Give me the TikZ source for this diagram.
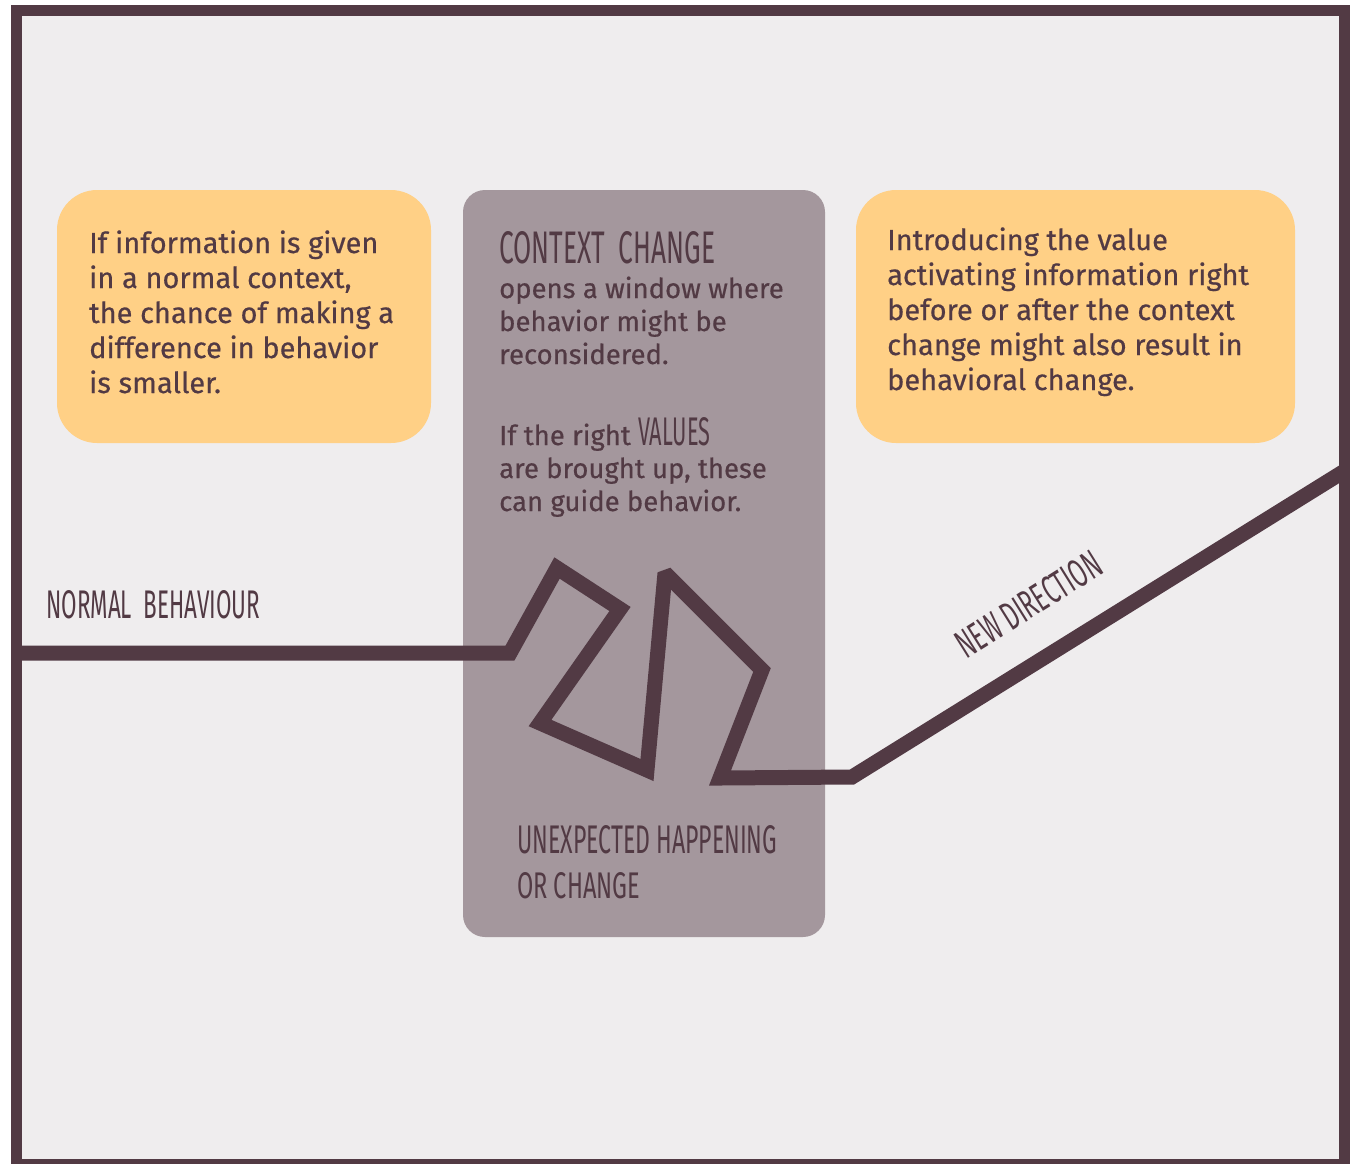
\documentclass[tikz,border=0pt]{standalone}
\usepackage{fontspec}
\setmainfont{Fira Sans}
\newfontfamily\bodyfont[FakeBold=0.5]{Fira Sans}
\newfontfamily\handfont{Fira Sans}
\usepackage{graphicx}
\definecolor{dark}{RGB}{82,58,68}
\definecolor{bgc}{RGB}{239,237,238}
\definecolor{yel}{RGB}{255,208,134}
\definecolor{greybox}{RGB}{164,151,157}
\begin{document}
\begin{tikzpicture}[x=1pt,y=-1pt,
  body/.style={inner sep=0pt, anchor=base west, align=left, text=dark, font=\bodyfont\fontsize{29}{35}\selectfont},
  midbody/.style={body, font=\bodyfont\fontsize{27.5}{33}\selectfont},
  hand/.style={inner sep=0pt, anchor=base west, text=dark},
  ybox/.style={fill=yel, rounded corners=40pt},
  gbox/.style={fill=greybox, rounded corners=22pt},
  track/.style={draw=dark, line width=15pt, line join=miter, miter limit=2}]
\useasboundingbox (0,0) rectangle (1354,1163);
\fill[white] (0,0) rectangle (1354,1163);
\fill[bgc] (16.5,10.5) rectangle (1344.5,1170);
% boxes
\path[ybox] (57,190) rectangle (431,443);
\path[gbox] (463,190) rectangle (825,937);
\path[ybox] (856,190) rectangle (1295,443);
% texts (base anchor = baseline of last line)
\node[body] (lefttext) at (89,393) {If information is given\\in a normal context,\\the chance of making a\\difference in behavior\\is smaller.};
\node[body] (righttext) at (887,390) {Introducing the value\\activating information right\\before or after the context\\change might also result in\\behavioral change.};
\node[hand] (ctx) at (499,263) {\resizebox{216pt}{32pt}{\handfont CONTEXT\ \ CHANGE}};
\node[midbody] (ctxtext) at (499,364) {opens a window where\\behavior might be\\reconsidered.};
\node[midbody] (iftr) at (499,445) {If the right};
\node[hand] (values) at (638,445) {\resizebox{72pt}{28pt}{\handfont VALUES}};
\node[midbody] (vtext) at (499,511) {are brought up, these\\can guide behavior.};
\node[hand] (unexp) at (517,853) {\resizebox{260pt}{28pt}{\handfont UNEXPECTED HAPPENING}};
\node[hand] (orch) at (517,898) {\resizebox{123pt}{26pt}{\handfont OR CHANGE}};
\node[hand] (normal) at (46,618) {\resizebox{214pt}{28pt}{\handfont NORMAL\ \ BEHAVIOUR}};
\node[hand, rotate=32, anchor=base] (newdir) at (1036,616) {\resizebox{164pt}{28pt}{\handfont NEW DIRECTION}};
% track
\coordinate (p0) at (16.5,653);
\coordinate (p1) at (510,653);
\coordinate (p2) at (557,568);
\coordinate (p3) at (620,609);
\coordinate (p4) at (540,723);
\coordinate (p5) at (647,770);
\coordinate (p6) at (665,573);
\coordinate (p7) at (762,670);
\coordinate (p8) at (720,778);
\coordinate (p9) at (852,777);
\coordinate (p10) at (1344.5,471);
\draw[track] (p0) -- (p1) -- (p2) -- (p3) -- (p4) -- (p5) -- (p6) -- (p7) -- (p8) -- (p9) -- (p10);
% frame
\draw[dark, line width=11pt] (16.5,10.5) rectangle (1344.5,1164.5);
\end{tikzpicture}
\end{document}
